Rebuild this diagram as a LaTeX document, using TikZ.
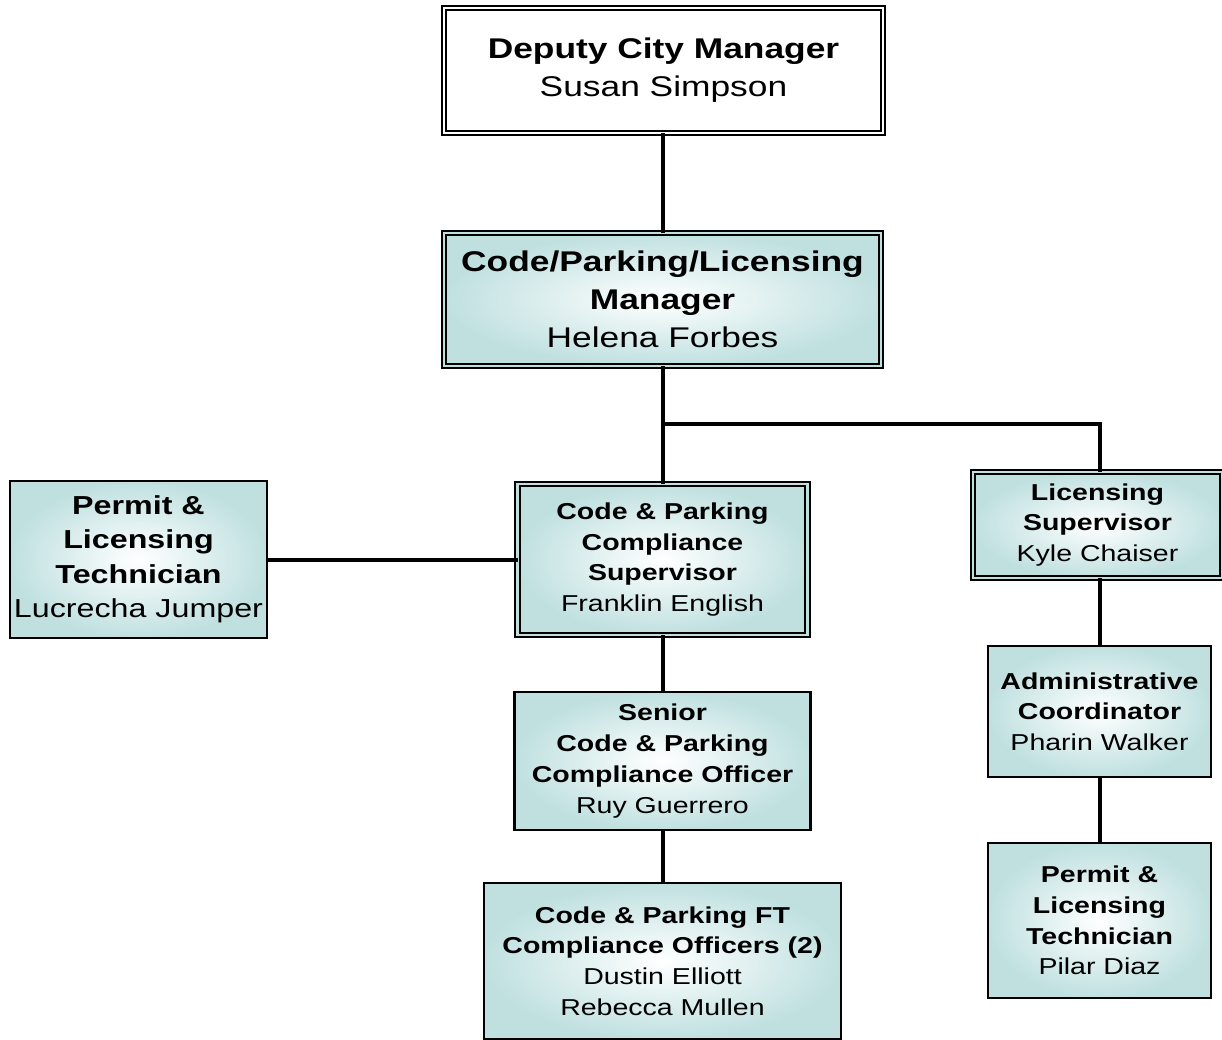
\documentclass[tikz,border=0pt]{standalone}
\usepackage{fontspec}
\setmainfont{Liberation Sans}[FakeStretch=1.24]
\definecolor{boxedge}{RGB}{192,224,224}
\begin{document}
\begin{tikzpicture}[x=1pt,y=-1pt,
  base/.style={rectangle, draw=black, inner sep=0pt, outer sep=0pt, align=center, text=black},
  shade/.style={shading=radial, inner color=white, outer color=boxedge},
  single/.style={base, shade, line width=2.2pt},
  dbl/.style={base, line width=2pt, double distance=2.6pt},
  dblshade/.style={dbl, shade, double=boxedge},
  big/.style={font=\fontsize{28.5}{38}\selectfont},
  mid/.style={font=\fontsize{26}{34.5}\selectfont},
  small/.style={font=\fontsize{23}{30.7}\selectfont},
  link/.style={line width=4pt, black}]
\useasboundingbox (0,0) rectangle (1222,1040);
\fill[white] (0,0) rectangle (1222,1040);

\coordinate (split) at (663,424);

% boxes
\node[dbl, double=white, big, minimum width=439pt, minimum height=125pt] (dcm) at (663.5,70.5)
  {\textbf{Deputy City Manager}\\Susan Simpson};
\node[dblshade, big, minimum width=437pt, minimum height=133pt] (mgr) at (662.5,299.5)
  {\textbf{Code/Parking/Licensing}\\\textbf{Manager}\\Helena Forbes};
\node[single, mid, minimum width=257pt, minimum height=157pt] (plt) at (138.5,559.5)
  {\textbf{Permit \&}\\\textbf{Licensing}\\\textbf{Technician}\\Lucrecha Jumper};
\node[dblshade, small, minimum width=290pt, minimum height=151pt] (cps) at (662.5,559.5)
  {\textbf{Code \& Parking}\\\textbf{Compliance}\\\textbf{Supervisor}\\Franklin English};
\node[dblshade, small, minimum width=249pt, minimum height=106pt] (lsup) at (1097.5,525)
  {\textbf{Licensing}\\\textbf{Supervisor}\\Kyle Chaiser};
\node[single, small, minimum width=296pt, minimum height=138pt] (sco) at (662.5,761)
  {\textbf{Senior}\\\textbf{Code \& Parking}\\\textbf{Compliance Officer}\\Ruy Guerrero};
\node[single, small, minimum width=357pt, minimum height=156pt] (fto) at (662.5,961)
  {\textbf{Code \& Parking FT}\\\textbf{Compliance Officers (2)}\\Dustin Elliott\\Rebecca Mullen};
\node[single, small, minimum width=223pt, minimum height=131pt] (adm) at (1099.5,711.5)
  {\textbf{Administrative}\\\textbf{Coordinator}\\Pharin Walker};
\node[single, small, minimum width=223pt, minimum height=155pt] (prt) at (1099.5,920.5)
  {\textbf{Permit \&}\\\textbf{Licensing}\\\textbf{Technician}\\Pilar Diaz};

% reporting lines
\draw[link] (split |- dcm.south) -- (split |- mgr.north);
\draw[link] (split |- mgr.south) -- (split |- cps.north);
\draw[link] (split) -| ([xshift=2.5pt]lsup.north);
\draw[link] (plt.east) -- (cps.west);
\draw[link] (split |- cps.south) -- (split |- sco.north);
\draw[link] (split |- sco.south) -- (split |- fto.north);
\draw[link] ([xshift=2.5pt]lsup.south) -- ([xshift=0.5pt]adm.north);
\draw[link] (adm.south) -- (prt.north);
\end{tikzpicture}
\end{document}
